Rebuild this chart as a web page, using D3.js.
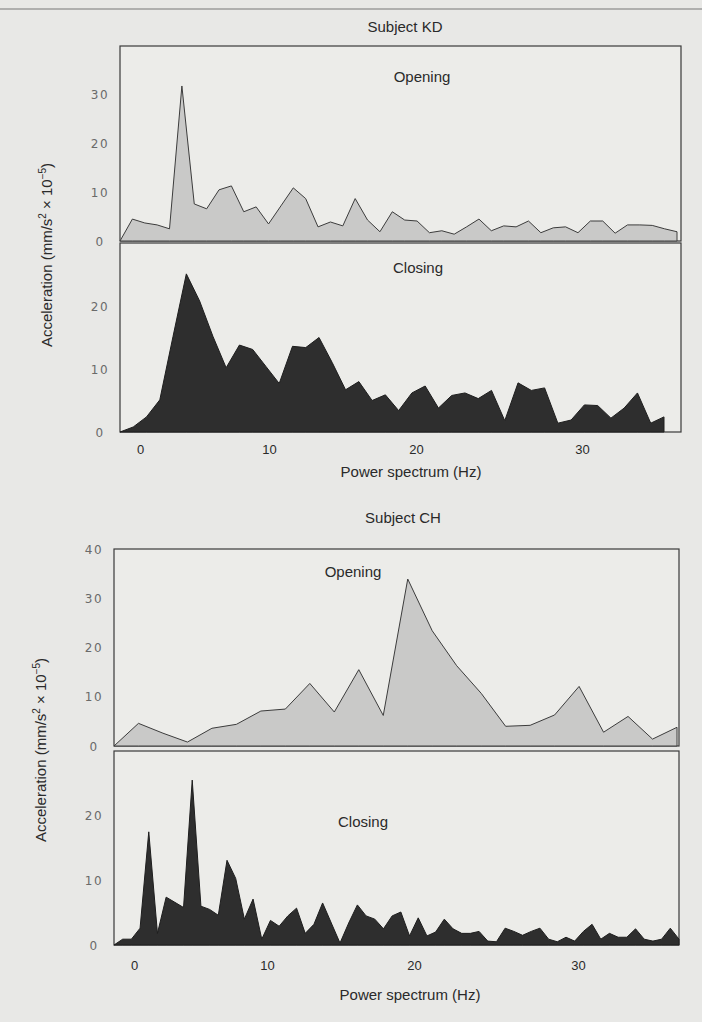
<!DOCTYPE html>
<html lang="en">
<head>
<meta charset="UTF-8">
<script src="https://d3js.org/d3.v7.min.js"></script>
<title>Power spectrum</title>
<style>
  body { margin: 0; background: #e8e8e6; }
  svg { display: block; }
  .lbl { font-family: "Liberation Sans", Arial, sans-serif; fill: #2a2a2a; }
  .ytick { font-family: "DejaVu Sans", sans-serif; font-size: 12px; fill: #6a6a6a; letter-spacing: 1.5px; }
</style>
</head>
<body>
<div id="chart"></div>
<script>
// values (acceleration, mm/s2 x 10^-5), one per spectral bin
var kdOpening = [0, 4.5, 3.7, 3.3, 2.5, 31.8, 7.6, 6.6, 10.5, 11.3, 6.0, 7.0, 3.5, 7.2, 10.9, 8.7,
  2.9, 3.9, 3.1, 8.7, 4.3, 1.9, 6.0, 4.3, 4.1, 1.7, 2.1, 1.4, 2.9, 4.5, 2.1, 3.1, 2.9, 4.1,
  1.7, 2.7, 2.9, 1.7, 4.1, 4.1, 1.6, 3.3, 3.3, 3.2, 2.5, 1.9];
var kdClosing = [0, 0.8, 2.4, 5.1, 15.2, 25.1, 20.8, 15.2, 10.2, 13.8, 13.1, 10.4, 7.7, 13.6,
  13.4, 15.0, 11.0, 6.7, 8.0, 5.0, 5.9, 3.4, 6.2, 7.3, 3.8, 5.8, 6.2, 5.3, 6.6, 1.8, 7.8, 6.6,
  7.0, 1.4, 1.9, 4.3, 4.2, 2.2, 3.8, 6.2, 1.4, 2.4];
var chOpening = [0, 4.6, 2.6, 0.8, 3.6, 4.4, 7.1, 7.5, 12.7, 6.9, 15.5, 6.2, 33.9, 23.4, 16.3,
  10.7, 4.0, 4.2, 6.3, 12.1, 2.8, 6.0, 1.4, 3.8];
var chClosing = [0, 0.9, 0.9, 2.6, 17.5, 1.8, 7.4, 6.6, 5.8, 25.5, 6.0, 5.5, 4.6, 13.1, 10.3,
  4.0, 7.1, 0.9, 3.8, 2.9, 4.5, 5.7, 1.8, 3.2, 6.5, 3.4, 0.3, 3.4, 6.2, 4.5, 4.0, 2.5, 4.5,
  5.1, 1.4, 4.2, 1.4, 2.0, 4.0, 2.5, 1.8, 1.8, 2.1, 0.6, 0.5, 2.6, 2.1, 1.5, 2.1, 2.6, 0.9,
  0.5, 1.2, 0.6, 2.1, 3.2, 0.9, 1.8, 1.2, 1.2, 2.5, 0.9, 0.6, 0.9, 2.6, 0.9];

var hzTicks = [0, 10, 20, 30];
var kdOpenTicks = [0, 10, 20, 30];
var kdCloseTicks = [0, 10, 20];
var chOpenTicks = [0, 10, 20, 30, 40];
var chCloseTicks = [0, 10, 20];

var width = 702, height = 1022;
var svg = d3.select("#chart").append("svg")
  .attr("width", width)
  .attr("height", height);

// thin rule across the top of the page
svg.append("line")
  .attr("x1", 0).attr("x2", width)
  .attr("y1", 9).attr("y2", 9)
  .attr("stroke", "#777").attr("stroke-width", 1);

function panel(o) {
  var x = d3.scaleLinear().domain([0, o.data.length - 1]).range([o.left, o.dataRight]);
  var y = d3.scaleLinear().domain([0, o.ymax]).range([o.bottom, o.top]);
  var g = svg.append("g");

  g.append("rect")
    .attr("x", o.left).attr("y", y(o.ymax))
    .attr("width", o.right - o.left).attr("height", y(0) - y(o.ymax))
    .attr("fill", "#ecece9").attr("stroke", "#3a3a3a").attr("stroke-width", 1.2);

  var area = d3.area()
    .x(function (d, i) { return x(i); })
    .y0(y(0))
    .y1(function (d) { return y(d); });

  g.append("path")
    .datum(o.data)
    .attr("d", area)
    .attr("fill", o.fill)
    .attr("stroke", o.stroke)
    .attr("stroke-width", 1)
    .attr("stroke-linejoin", "miter");

  var yAxis = g.append("g")
    .attr("transform", "translate(" + o.left + ",0)")
    .call(d3.axisLeft(y).tickValues(o.ticks).tickSize(0));
  yAxis.select(".domain").remove();
  yAxis.selectAll("text")
    .attr("class", "ytick")
    .attr("x", -20)
    .attr("dy", "0.35em")
    .attr("text-anchor", "middle");

  g.append("text").attr("class", "lbl")
    .attr("x", o.labelX).attr("y", o.labelY)
    .attr("text-anchor", "middle")
    .style("font-size", "15px")
    .text(o.label);
}

function xAxis(ticksAt, top, tickY, labelY, cx) {
  var hz = d3.scaleLinear().domain(hzTicks).range(ticksAt);
  var ax = svg.append("g")
    .attr("transform", "translate(0," + top + ")")
    .call(d3.axisBottom(hz).tickValues(hzTicks).tickSize(0));
  ax.select(".domain").remove();
  ax.selectAll("text")
    .attr("class", "lbl")
    .style("font-size", "13px")
    .attr("y", tickY);
  svg.append("text").attr("class", "lbl")
    .attr("x", cx).attr("y", labelY)
    .attr("text-anchor", "middle")
    .style("font-size", "15px")
    .text("Power spectrum (Hz)");
}

function yTitle(cx, cy) {
  var t = svg.append("text").attr("class", "lbl")
    .attr("transform", "translate(" + cx + "," + cy + ") rotate(-90)")
    .attr("text-anchor", "middle")
    .style("font-size", "15px");
  t.append("tspan").text("Acceleration (mm/s");
  t.append("tspan").attr("dy", -6).style("font-size", "10px").text("2");
  t.append("tspan").attr("dy", 6).text(" \u00d7 10");
  t.append("tspan").attr("dy", -6).style("font-size", "10px").text("\u22125");
  t.append("tspan").attr("dy", 6).text(")");
}

var lightFill = "#c9c9c8", lightLine = "#3c3c3c";
var darkFill = "#2e2e2e", darkLine = "#1e1e1e";

// Subject KD
svg.append("text").attr("class", "lbl")
  .attr("x", 405).attr("y", 32)
  .attr("text-anchor", "middle").style("font-size", "15px")
  .text("Subject KD");

panel({ data: kdOpening, left: 120, right: 681, dataRight: 677, top: 46, bottom: 241,
  ymax: 40, ticks: kdOpenTicks, fill: lightFill, stroke: lightLine,
  label: "Opening", labelX: 422, labelY: 82 });
panel({ data: kdClosing, left: 120, right: 681, dataRight: 664, top: 243, bottom: 432,
  ymax: 30, ticks: kdCloseTicks, fill: darkFill, stroke: darkLine,
  label: "Closing", labelX: 418, labelY: 273 });
xAxis([140, 269, 416, 582], 432, 13, 477, 411);
yTitle(52, 255);

// Subject CH
svg.append("text").attr("class", "lbl")
  .attr("x", 403).attr("y", 523)
  .attr("text-anchor", "middle").style("font-size", "15px")
  .text("Subject CH");

panel({ data: chOpening, left: 114, right: 679, dataRight: 677, top: 549, bottom: 746,
  ymax: 40, ticks: chOpenTicks, fill: lightFill, stroke: lightLine,
  label: "Opening", labelX: 353, labelY: 577 });
panel({ data: chClosing, left: 114, right: 679, dataRight: 679, top: 751, bottom: 945,
  ymax: 30, ticks: chCloseTicks, fill: darkFill, stroke: darkLine,
  label: "Closing", labelX: 363, labelY: 827 });
xAxis([134, 267, 414, 578], 945, 16, 1000, 410);
yTitle(46, 750);
</script>
</body>
</html>
